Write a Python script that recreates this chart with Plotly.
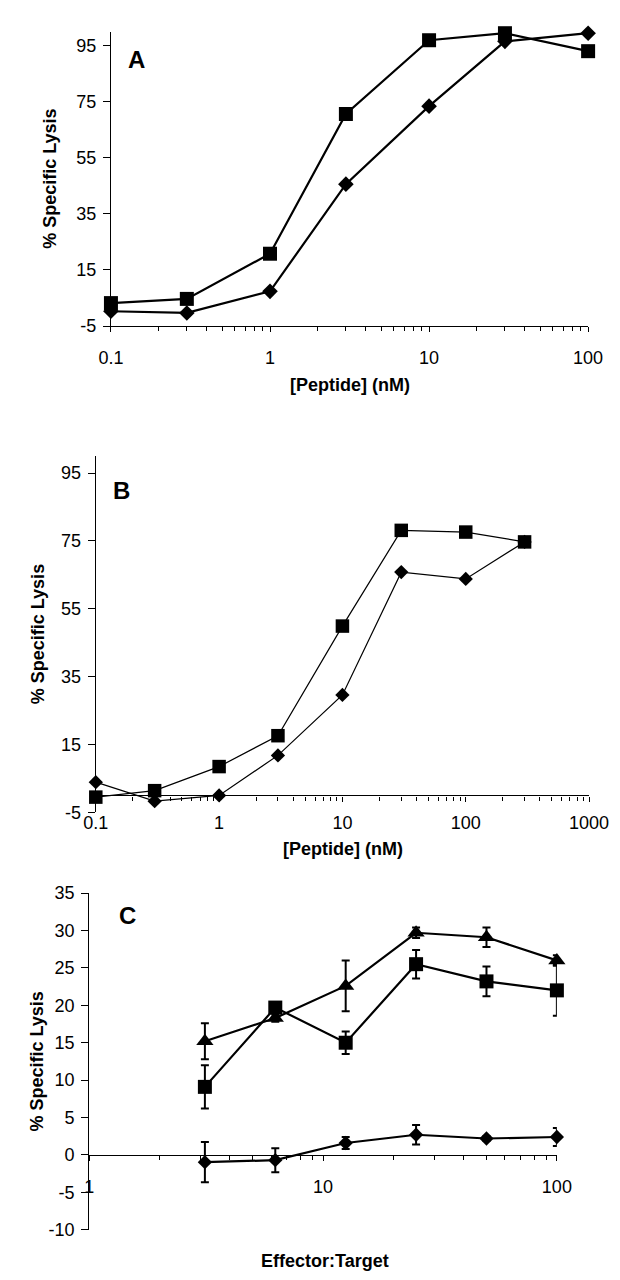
import plotly.graph_objects as go

# ---------------- data ----------------
conc_A = [0.1, 0.3, 1, 3, 10, 30, 100]
A_square = [3.2, 4.7, 20.8, 70.6, 96.9, 99.4, 93.0]
A_diamond = [0.3, -0.3, 7.4, 45.6, 73.4, 96.5, 99.4]

conc_B = [0.1, 0.3, 1, 3, 10, 30, 100, 300]
B_square = [-0.5, 1.4, 8.5, 17.6, 49.9, 78.1, 77.6, 74.7]
B_diamond = [3.9, -1.7, 0.0, 11.8, 29.6, 65.8, 63.8, 74.7]

et_ratio = [3.125, 6.25, 12.5, 25, 50, 100]
C_triangle = [15.2, 18.3, 22.6, 29.7, 29.1, 26.0]
C_triangle_err = [2.4, 0.5, 3.4, 0.7, 1.3, 0.7]
C_square = [9.1, 19.7, 15.0, 25.5, 23.2, 22.0]
C_square_err = [2.9, 0.6, 1.5, 1.9, 2.0, 3.4]
C_diamond = [-0.96, -0.7, 1.6, 2.7, 2.2, 2.4]
C_diamond_err = [2.7, 1.6, 0.8, 1.3, 0.3, 1.2]

ticks_AB_y = [-5, 15, 35, 55, 75, 95]
ticks_C_y = [-10, -5, 0, 5, 10, 15, 20, 25, 30, 35]
xt_A = [0.1, 1, 10, 100]
xt_B = [0.1, 1, 10, 100, 1000]
xt_C = [1, 10, 100]

W, H = 620, 1280
FONT = "Liberation Sans, Arial, Helvetica, sans-serif"
BLACK = "#000000"


def px_x(p):
    return p / W


def px_y(p):
    return 1 - p / H


def minor_vals(lo, hi):
    return [m * 10 ** k for k in range(lo, hi) for m in range(2, 10)]


fig = go.Figure()

# Panel A
fig.add_trace(go.Scatter(x=conc_A, y=A_diamond, mode="lines+markers", xaxis="x", yaxis="y",
                         line=dict(color=BLACK, width=2.2), cliponaxis=False,
                         marker=dict(symbol="diamond", size=12, color=BLACK)))
fig.add_trace(go.Scatter(x=conc_A, y=A_square, mode="lines+markers", xaxis="x", yaxis="y",
                         line=dict(color=BLACK, width=2.2), cliponaxis=False,
                         marker=dict(symbol="square", size=14, color=BLACK)))
# Panel B
fig.add_trace(go.Scatter(x=conc_B, y=B_diamond, mode="lines+markers", xaxis="x2", yaxis="y2",
                         line=dict(color=BLACK, width=1.2), cliponaxis=False,
                         marker=dict(symbol="diamond", size=11, color=BLACK)))
fig.add_trace(go.Scatter(x=conc_B, y=B_square, mode="lines+markers", xaxis="x2", yaxis="y2",
                         line=dict(color=BLACK, width=1.2), cliponaxis=False,
                         marker=dict(symbol="square", size=13.5, color=BLACK)))
# Panel C
err_style = dict(type="data", visible=True, color=BLACK, thickness=2, width=4)
fig.add_trace(go.Scatter(x=et_ratio, y=C_diamond, mode="lines+markers", xaxis="x3", yaxis="y3",
                         error_y=dict(array=C_diamond_err, **err_style), cliponaxis=False,
                         line=dict(color=BLACK, width=2.2),
                         marker=dict(symbol="diamond", size=11, color=BLACK)))
fig.add_trace(go.Scatter(x=et_ratio, y=C_square, mode="lines+markers", xaxis="x3", yaxis="y3",
                         error_y=dict(array=C_square_err, **err_style), cliponaxis=False,
                         line=dict(color=BLACK, width=2.2),
                         marker=dict(symbol="square", size=14, color=BLACK)))
fig.add_trace(go.Scatter(x=et_ratio, y=C_triangle, mode="lines+markers", xaxis="x3", yaxis="y3",
                         error_y=dict(array=C_triangle_err, **err_style), cliponaxis=False,
                         line=dict(color=BLACK, width=2.2),
                         marker=dict(symbol="triangle-up", size=15, color=BLACK)))

tickfont = dict(family=FONT, size=18, color=BLACK)

# domains (pixel geometry)
dA_x = [px_x(95), px_x(599)]
dA_y = [px_y(313), px_y(13.75)]
dB_x = [px_x(79), px_x(600)]
dB_y = [px_y(807), px_y(445)]
dC_x = [px_x(72), px_x(566)]
dC_y = [px_y(1231), px_y(889)]

rA_y = [-5, 100]
rB_y = [-5, 100]
rC_y = [-10, 35]


def zero_pos(dom, rng):
    return dom[0] + (0 - rng[0]) / (rng[1] - rng[0]) * (dom[1] - dom[0])


def xaxis_common(tv, mv):
    return dict(type="log", showgrid=False, zeroline=False, showline=True,
                linecolor=BLACK, linewidth=1.3, ticks="outside", ticklen=5,
                tickwidth=1.3, tickcolor=BLACK, tickmode="array", tickvals=tv,
                ticktext=[("%g" % v) for v in tv], tickfont=tickfont,
                minor=dict(ticks="outside", ticklen=4, tickwidth=1, tickcolor=BLACK,
                           tickmode="array", tickvals=mv, showgrid=False))


def yaxis_common(tv, rng):
    return dict(range=rng, showgrid=False, zeroline=False, showline=True,
                linecolor=BLACK, linewidth=1.3, ticks="outside", ticklen=7,
                tickwidth=1.3, tickcolor=BLACK, tickmode="array", tickvals=tv,
                ticktext=[str(v) for v in tv],
                tickfont=tickfont, ticklabelstandoff=3)


xa = xaxis_common(xt_A, minor_vals(-1, 2))
xa.update(domain=dA_x, range=[-1, 2], anchor="y", ticklabelstandoff=10)
xb = xaxis_common(xt_B, minor_vals(-1, 3))
xb.update(domain=dB_x, range=[-1, 3], anchor="free", position=zero_pos(dB_y, rB_y),
          ticklabelstandoff=6)
xc = xaxis_common(xt_C, minor_vals(0, 2))
xc.update(domain=dC_x, range=[0, 2], anchor="free", position=zero_pos(dC_y, rC_y),
          ticklabelstandoff=10)

ya = yaxis_common(ticks_AB_y, rA_y)
ya.update(domain=dA_y, anchor="x")
yb = yaxis_common(ticks_AB_y, rB_y)
yb.update(domain=dB_y, anchor="x2")
yc = yaxis_common(ticks_C_y, rC_y)
yc.update(domain=dC_y, anchor="x3")

title_font = dict(family=FONT, size=18, color=BLACK)
letter_font = dict(family=FONT, size=24, color=BLACK)


def ann(text, x, y, font, angle=0):
    return dict(text="<b>%s</b>" % text, x=px_x(x), y=px_y(y), xref="paper", yref="paper",
                showarrow=False, font=font, textangle=angle, xanchor="center", yanchor="middle")


annotations = [
    ann("A", 122, 42, letter_font),
    ann("B", 106, 480, letter_font),
    ann("C", 112, 912, letter_font),
    ann("[Peptide] (nM)", 347, 373, title_font),
    ann("[Peptide] (nM)", 340, 844, title_font),
    ann("Effector:Target", 321, 1263, title_font),
    ann("% Specific Lysis", 31, 163, title_font, -90),
    ann("% Specific Lysis", 18, 626, title_font, -90),
    ann("% Specific Lysis", 17, 1060, title_font, -90),
]

fig.update_layout(
    width=W, height=H,
    margin=dict(l=0, r=0, t=0, b=0),
    paper_bgcolor="white", plot_bgcolor="white",
    showlegend=False,
    font=dict(family=FONT, color=BLACK),
    xaxis=xa, yaxis=ya, xaxis2=xb, yaxis2=yb, xaxis3=xc, yaxis3=yc,
    annotations=annotations,
)

fig.write_html("out.html")
